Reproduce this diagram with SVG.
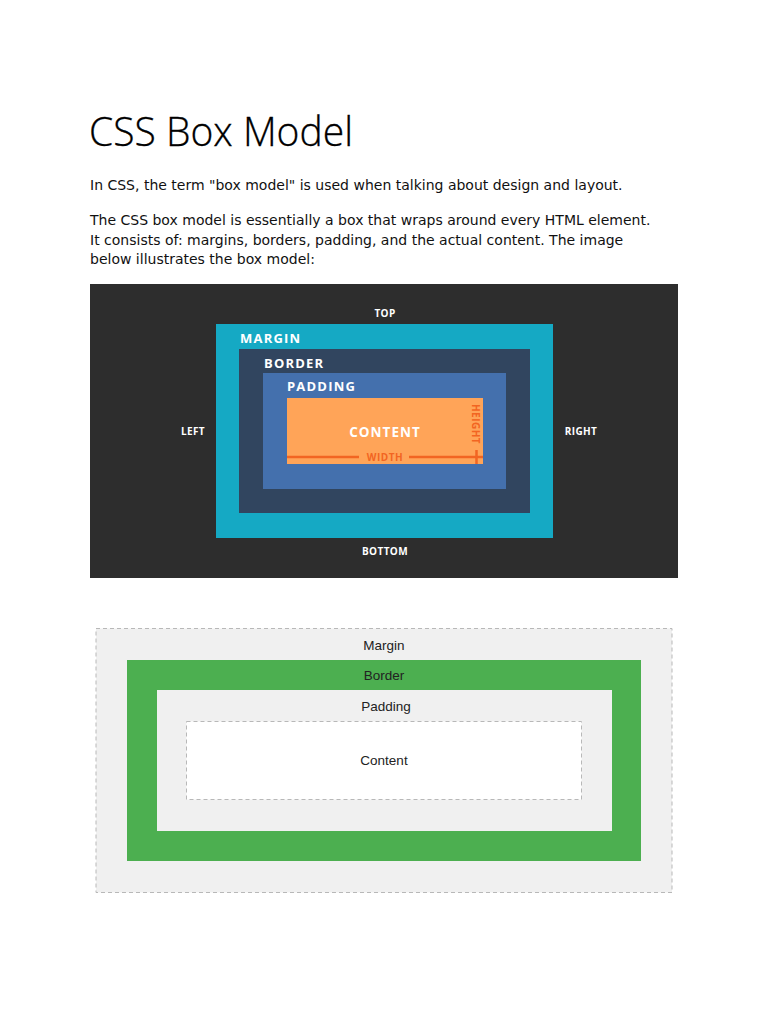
<svg xmlns="http://www.w3.org/2000/svg" width="768" height="1024" viewBox="0 0 768 1024">
<style>
.body{font-family:"DejaVu Sans",Verdana,sans-serif;font-size:14px;fill:#111}
.lbl{font-family:"Open Sans","Liberation Sans",sans-serif;font-weight:700;fill:#fff}
.big{font-size:13px;letter-spacing:1.2px}
.sm{font-size:10px;letter-spacing:0.4px}
.or{font-family:"Open Sans","Liberation Sans",sans-serif;font-weight:700;fill:#f26522;font-size:10px;letter-spacing:0.5px}
.l2{font-family:"Liberation Sans",Arial,sans-serif;font-size:13.5px;fill:#222;text-anchor:middle}
</style>
<rect width="768" height="1024" fill="#fff"/>
<g id="title">
<text x="89" y="146" font-family="'Open Sans','Noto Sans',sans-serif" font-weight="300" font-size="40" fill="#000" stroke="#000" stroke-width="0.3" textLength="264" lengthAdjust="spacingAndGlyphs">CSS Box Model</text>
</g>
<g id="intro">
<text class="body" x="90" y="190">In CSS, the term "box model" is used when talking about design and layout.</text>
<text class="body" x="90" y="225">The CSS box model is essentially a box that wraps around every HTML element.</text>
<text class="body" x="90" y="245">It consists of: margins, borders, padding, and the actual content. The image</text>
<text class="body" x="90" y="264">below illustrates the box model:</text>
</g>
<g id="diagram1">
<rect x="90" y="284" width="588" height="294" fill="#2d2d2d"/>
<g id="margin1"><rect x="216" y="324" width="337" height="214" fill="#15a9c4"/>
<text class="lbl big" x="240" y="343">MARGIN</text></g>
<g id="border1"><rect x="239" y="349" width="291" height="164" fill="#31455f"/>
<text class="lbl big" x="264" y="368">BORDER</text></g>
<g id="padding1"><rect x="263" y="373" width="243" height="116" fill="#4470ad"/>
<text class="lbl big" x="287" y="391">PADDING</text></g>
<g id="content1"><rect x="287" y="398" width="196" height="66" fill="#ffa458"/>
<text class="lbl" x="385" y="437" font-size="13.5" letter-spacing="1" text-anchor="middle">CONTENT</text>
<line x1="287" y1="457" x2="359" y2="457" stroke="#f26522" stroke-width="2.5"/>
<line x1="409" y1="457" x2="483" y2="457" stroke="#f26522" stroke-width="2.5"/>
<line x1="476.5" y1="450" x2="476.5" y2="464" stroke="#f26522" stroke-width="2.5"/>
<text class="or" x="385" y="460.5" text-anchor="middle">WIDTH</text>
<text class="or" transform="translate(472,424) rotate(90)" text-anchor="middle">HEIGHT</text></g>
<g id="sides1">
<text class="lbl sm" x="385" y="317" text-anchor="middle">TOP</text>
<text class="lbl sm" x="193" y="435" text-anchor="middle">LEFT</text>
<text class="lbl sm" x="581" y="435" text-anchor="middle">RIGHT</text>
<text class="lbl sm" x="385" y="555" text-anchor="middle">BOTTOM</text>
</g>
</g>
<g id="diagram2">
<g id="margin2"><rect x="96" y="628.5" width="576" height="264" fill="#f0f0f0" stroke="#b8b8b8" stroke-dasharray="4,3"/>
<text class="l2" x="384" y="650">Margin</text></g>
<g id="border2"><rect x="127" y="660" width="514" height="201" fill="#4caf50"/>
<text class="l2" x="384" y="680" fill="#111">Border</text></g>
<g id="padding2"><rect x="157" y="690" width="455" height="141" fill="#f0f0f0"/>
<text class="l2" x="386" y="711">Padding</text></g>
<g id="content2"><rect x="186.5" y="721.5" width="395" height="78" fill="#fff" stroke="#b8b8b8" stroke-dasharray="4,3"/>
<text class="l2" x="384" y="765">Content</text></g>
</g>
</svg>
